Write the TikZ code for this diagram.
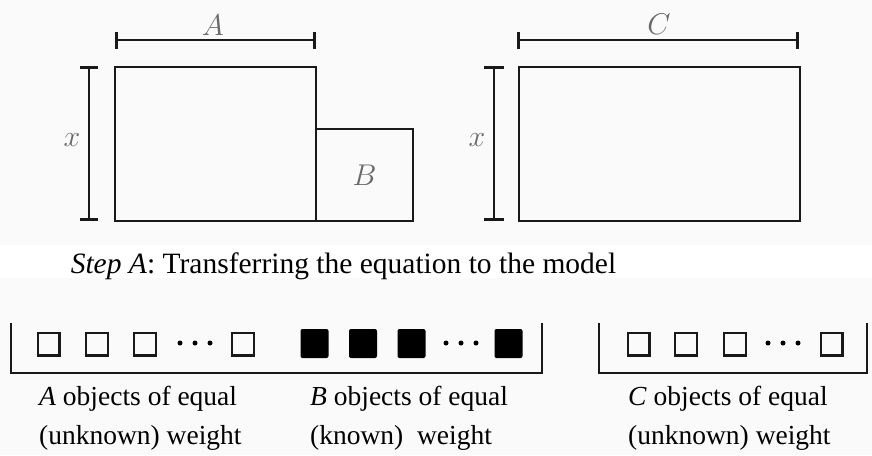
\documentclass[tikz,border=0pt]{standalone}
\usepackage{fix-cm}
\usepackage{fontspec}
\setmainfont{Liberation Serif}
\usetikzlibrary{arrows.meta}
\definecolor{bgc}{RGB}{250,250,250}
\definecolor{ink}{RGB}{25,25,25}
\definecolor{lbl}{RGB}{105,105,105}
\tikzset{
  outline/.style={draw=ink, line width=2.6pt, inner sep=0pt, outer sep=0pt},
  dimline/.style={draw=ink, line width=2.6pt},
  lab/.style={text=lbl, font=\fontsize{30}{34}\selectfont, inner sep=0pt},
  osq/.style={draw=ink, line width=2.4pt, minimum width=21.6pt, minimum height=22.6pt, inner sep=0pt},
  fsq/.style={fill=black, rounded corners=2pt, minimum width=28pt, minimum height=29pt, inner sep=0pt},
  smalldot/.style={circle, fill=black, minimum size=5pt, inner sep=0pt},
  txt/.style={font=\fontsize{27.5}{33}\selectfont, inner sep=0pt, anchor=base west},
  bracket/.style={draw=ink, line width=2.4pt},
}
\begin{document}
\begin{tikzpicture}[x=1pt,y=-1pt]
\fill[bgc] (0,0) rectangle (872,455);
\fill[white] (0,245) rectangle (872,278);
\useasboundingbox (0,0) rectangle (872,455);

% top left model
\node[outline, minimum width=201pt, minimum height=154pt, anchor=north west] (RA) at (115,67) {};
\node[outline, minimum width=97pt, minimum height=92pt, anchor=south west] (RB) at (316,221) {};
\node[lab] (lB) at (RB.center) {$B$};
\coordinate (a1) at (115,40);
\coordinate (a2) at (316,40);
\draw[dimline, {Bar[width=17pt]}-{Bar[width=17pt]}] (a1) -- (a2);
\node[lab] (lA) at (213,25) {$A$};
\coordinate (x1) at (89,66);
\coordinate (x2) at (89,221);
\draw[dimline, {Bar[width=18pt]}-{Bar[width=18pt]}] (x1) -- (x2);
\node[lab] (lx1) at (72,140) {$x$};

% top right model
\node[outline, minimum width=281pt, minimum height=154pt, anchor=north west] (RC) at (519,67) {};
\coordinate (c1) at (517,40);
\coordinate (c2) at (799,40);
\draw[dimline, {Bar[width=17pt]}-{Bar[width=17pt]}] (c1) -- (c2);
\node[lab] (lC) at (659,24) {$C$};
\coordinate (y1) at (494,66);
\coordinate (y2) at (494,221);
\draw[dimline, {Bar[width=20pt]}-{Bar[width=20pt]}] (y1) -- (y2);
\node[lab] (lx2) at (477,140) {$x$};

% caption
\node[font=\fontsize{29.5}{34}\selectfont, inner sep=0pt, anchor=base] (cap) at (343.5,273)
  {\textit{Step A}: Transferring the equation to the model};

% left pan
\coordinate (p1) at (11,323);
\coordinate (p2) at (11,373);
\coordinate (p3) at (542,373);
\coordinate (p4) at (542,323);
\draw[bracket] (p1) -- (p2) -- (p3) -- (p4);
\node[osq] (s1) at (48.5,344) {};
\node[osq] (s2) at (97,344) {};
\node[osq] (s3) at (145,344) {};
\node[smalldot] (d1) at (180,343) {};
\node[smalldot] (d2) at (195,343) {};
\node[smalldot] (d3) at (210,343) {};
\node[osq] (s4) at (243,344) {};
\node[fsq] (f1) at (314.5,343.5) {};
\node[fsq] (f2) at (363,343.5) {};
\node[fsq] (f3) at (411.5,343.5) {};
\node[smalldot] (d4) at (446,343) {};
\node[smalldot] (d5) at (461,343) {};
\node[smalldot] (d6) at (476,343) {};
\node[fsq] (f4) at (508.5,343.5) {};

% right pan
\coordinate (q1) at (599,323);
\coordinate (q2) at (599,373);
\coordinate (q3) at (867,373);
\coordinate (q4) at (867,323);
\draw[bracket] (q1) -- (q2) -- (q3) -- (q4);
\node[osq] (r1) at (638.5,344) {};
\node[osq] (r2) at (686,344) {};
\node[osq] (r3) at (735,344) {};
\node[smalldot] (d7) at (768,343) {};
\node[smalldot] (d8) at (783,343) {};
\node[smalldot] (d9) at (798,343) {};
\node[osq] (r4) at (831.5,344) {};

% texts
\node[txt] (tA1) at (39,405) {\textit{A} objects of equal};
\node[txt] (tA2) at (39,444) {(unknown) weight};
\node[txt] (tB1) at (310,405) {\textit{B} objects of equal};
\node[txt] (tB2) at (310,444) {(known)~ weight};
\node[txt] (tC1) at (628,405) {\textit{C} objects of equal};
\node[txt] (tC2) at (628,444) {(unknown) weight};
\end{tikzpicture}
\end{document}
